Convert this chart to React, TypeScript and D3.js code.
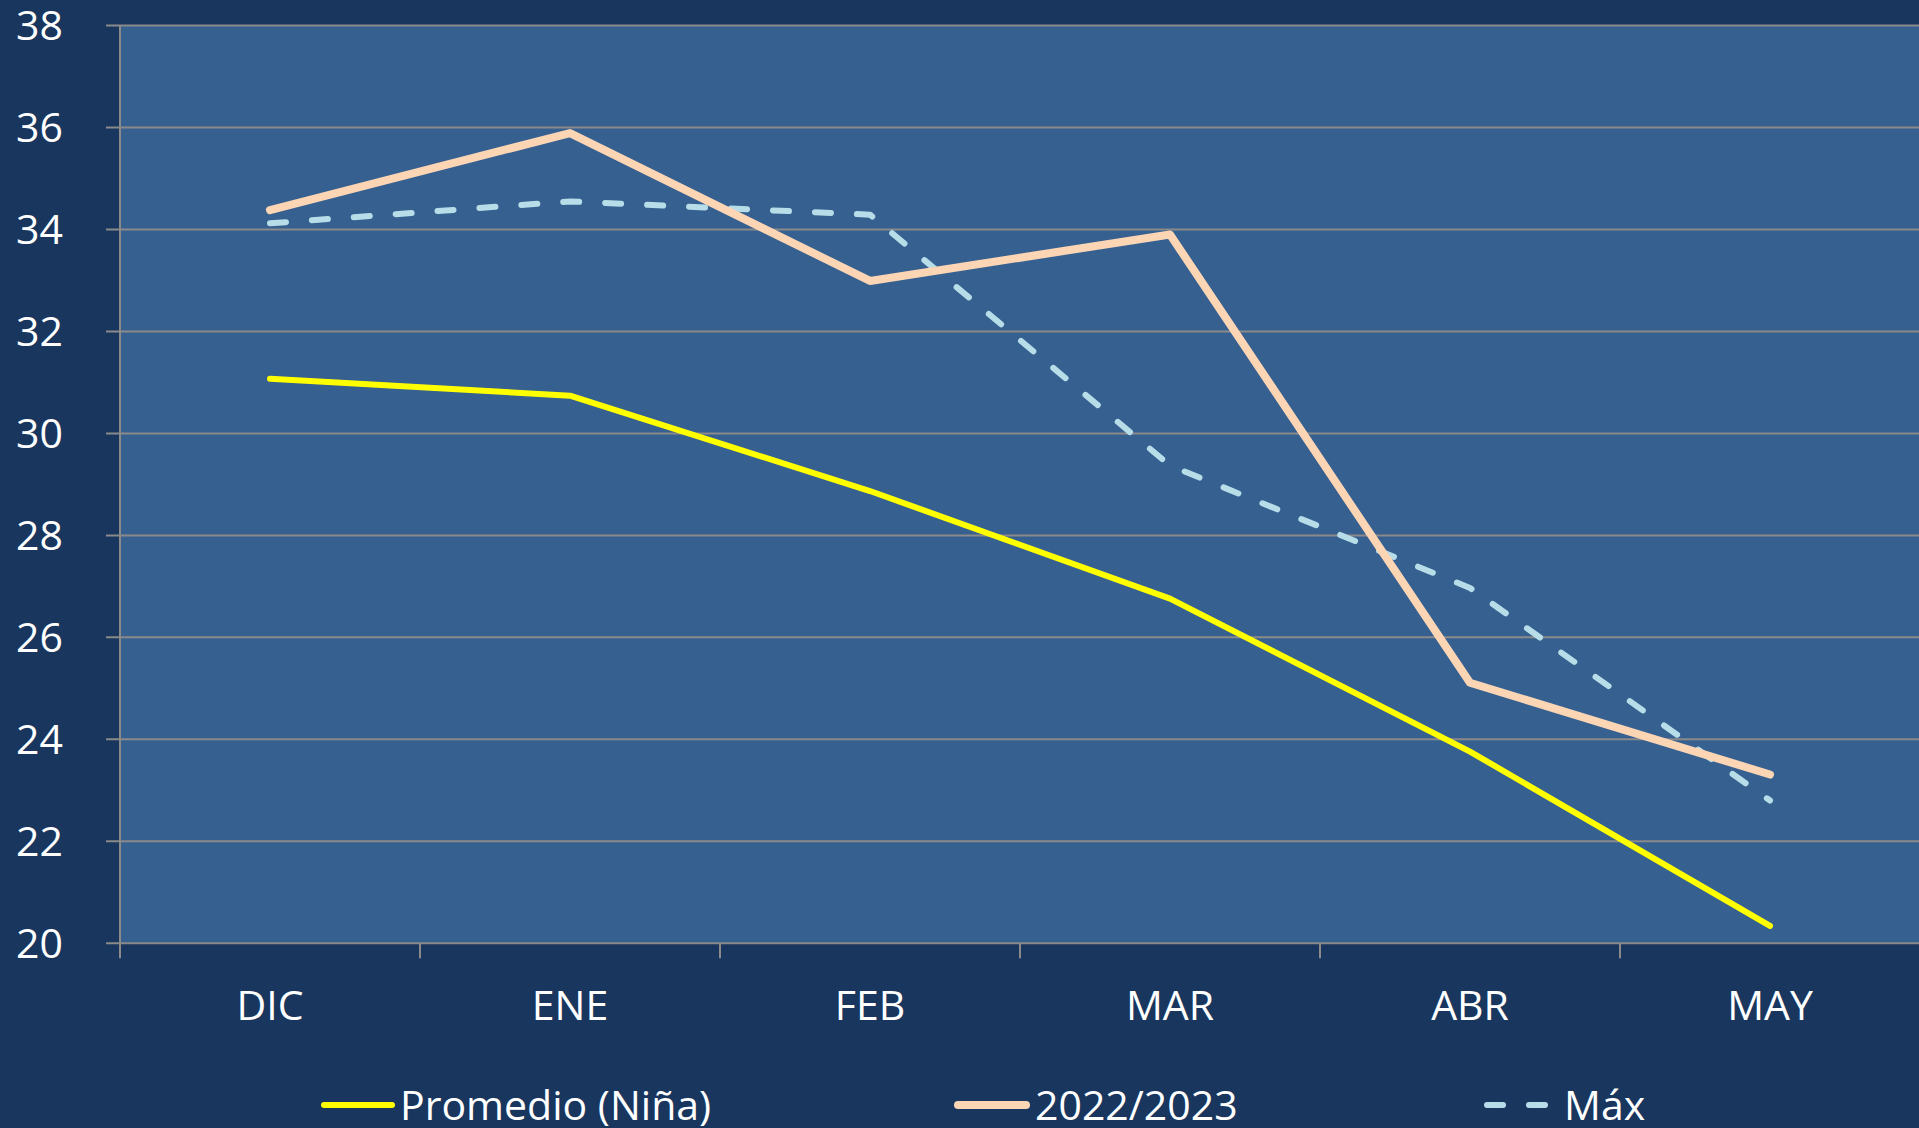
import React, { useEffect, useRef } from 'react';
import * as d3 from 'd3';

const months = ['DIC', 'ENE', 'FEB', 'MAR', 'ABR', 'MAY'];
const promedio = [31.07, 30.74, 28.87, 26.76, 23.76, 20.34];
const temporada = [34.38, 35.89, 32.99, 33.9, 25.11, 23.31];
const maximo = [34.12, 34.55, 34.29, 29.37, 26.97, 22.8];
const yTicks = [20, 22, 24, 26, 28, 30, 32, 34, 36, 38];

const W = 1919;
const H = 1128;
const FONT = '"Open Sans", sans-serif';

const App = () => {
  const svgRef = useRef<SVGSVGElement | null>(null);

  useEffect(() => {
    if (!svgRef.current) return;
    const svg = d3.select(svgRef.current);
    svg.selectAll('*').remove();

    const left = 120;
    const top = 25.5;
    const bottom = 943.3;

    const x = d3.scaleBand<string>().domain(months).range([left, 1920]).padding(0);
    const y = d3.scaleLinear().domain([20, 38]).range([bottom, top]);
    const cx = (m: string) => x(m)! + x.bandwidth() / 2;

    // background
    svg.append('rect').attr('width', W).attr('height', H).attr('fill', '#18365e');
    svg
      .append('rect')
      .attr('x', left)
      .attr('y', top)
      .attr('width', W - left)
      .attr('height', bottom - top)
      .attr('fill', '#366090');

    // y grid + ticks
    const grid = svg.append('g');
    grid
      .selectAll('line')
      .data(yTicks)
      .enter()
      .append('line')
      .attr('x1', left - 14)
      .attr('x2', W)
      .attr('y1', (d) => y(d))
      .attr('y2', (d) => y(d))
      .attr('stroke', '#8a8a8a')
      .attr('stroke-width', 2);

    svg
      .append('g')
      .selectAll('text')
      .data(yTicks)
      .enter()
      .append('text')
      .attr('x', 63)
      .attr('y', (d) => y(d))
      .attr('dy', '0.36em')
      .attr('text-anchor', 'end')
      .attr('fill', '#ffffff')
      .style('font-family', FONT)
      .style('font-size', '41px')
      .text((d) => d);

    // y axis line
    svg
      .append('line')
      .attr('x1', left)
      .attr('x2', left)
      .attr('y1', top)
      .attr('y2', bottom + 15)
      .attr('stroke', '#8a8a8a')
      .attr('stroke-width', 2);

    // x ticks at band edges
    const edges = months.map((m) => x(m)!).concat([x(months[months.length - 1])! + x.bandwidth()]);
    svg
      .append('g')
      .selectAll('line')
      .data(edges.slice(1))
      .enter()
      .append('line')
      .attr('x1', (d) => d)
      .attr('x2', (d) => d)
      .attr('y1', bottom)
      .attr('y2', bottom + 15)
      .attr('stroke', '#8a8a8a')
      .attr('stroke-width', 2);

    svg
      .append('g')
      .selectAll('text')
      .data(months)
      .enter()
      .append('text')
      .attr('x', (d) => cx(d))
      .attr('y', 1005)
      .attr('dy', '0.36em')
      .attr('text-anchor', 'middle')
      .attr('fill', '#ffffff')
      .style('font-family', FONT)
      .style('font-size', '41px')
      .text((d) => d);

    // series
    const series = [
      { name: 'Promedio (Niña)', values: promedio, color: '#ffff00', width: 6, dash: null },
      { name: '2022/2023', values: temporada, color: '#fcd5b5', width: 8, dash: null },
      { name: 'Máx', values: maximo, color: '#b7dee8', width: 6, dash: '16 26' },
    ];

    const line = d3
      .line<number>()
      .x((_, i) => cx(months[i]))
      .y((d) => y(d));

    const drawOrder = [0, 2, 1];
    drawOrder.forEach((k) => {
      const s = series[k];
      svg
        .append('path')
        .attr('d', line(s.values)!)
        .attr('fill', 'none')
        .attr('stroke', s.color)
        .attr('stroke-width', s.width)
        .attr('stroke-linecap', 'round')
        .attr('stroke-linejoin', 'round')
        .attr('stroke-dasharray', s.dash);
    });

    // legend
    const legendPos = [
      { x1: 324, x2: 392, tx: 400 },
      { x1: 958, x2: 1026, tx: 1035 },
      { x1: 1487, x2: 1548, tx: 1564 },
    ];
    const ly = 1105;
    series.forEach((s, i) => {
      const p = legendPos[i];
      svg
        .append('line')
        .attr('x1', p.x1)
        .attr('x2', p.x2)
        .attr('y1', ly)
        .attr('y2', ly)
        .attr('stroke', s.color)
        .attr('stroke-width', s.width)
        .attr('stroke-linecap', 'round')
        .attr('stroke-dasharray', s.dash ? '16 26' : null);
      svg
        .append('text')
        .attr('x', p.tx)
        .attr('y', ly)
        .attr('dy', '0.36em')
        .attr('fill', '#ffffff')
        .style('font-family', FONT)
        .style('font-size', '41px')
        .text(s.name);
    });
  }, []);

  return (
    <svg
      ref={svgRef}
      width={W}
      height={H}
      style={{ position: 'absolute', left: 0, top: 0, display: 'block' }}
    />
  );
};

export default App;
